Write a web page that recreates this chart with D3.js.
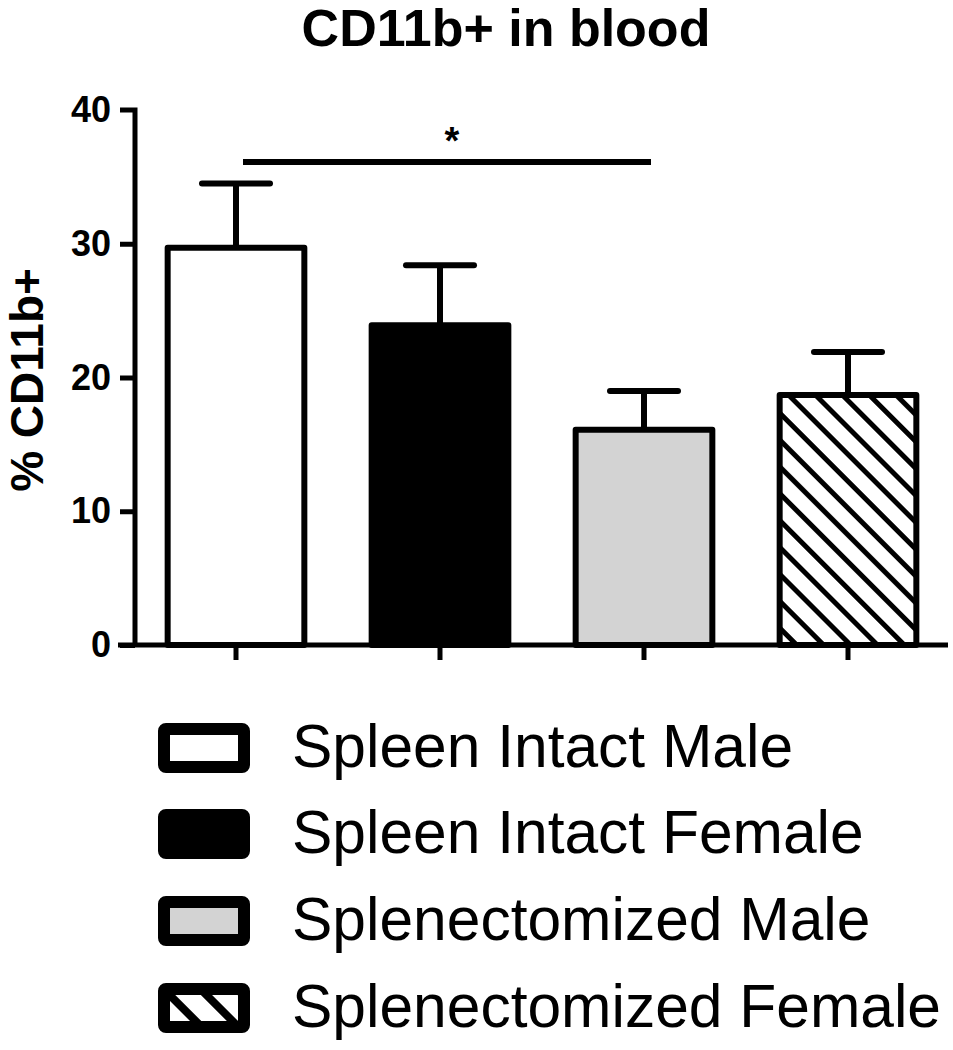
<!DOCTYPE html>
<html><head><meta charset="utf-8">
<script src="https://cdn.jsdelivr.net/npm/d3@7"></script>
<style>body{margin:0;background:#fff}text{font-family:"Liberation Sans",Arial,sans-serif}</style>
</head><body>
<script>
const categories = ["Spleen Intact Male","Spleen Intact Female","Splenectomized Male","Splenectomized Female"];
const means = [29.7, 23.9, 16.1, 18.7];
const errors = [4.8, 4.5, 2.9, 3.2];
const yTicks = [0, 10, 20, 30, 40];
const fills = ["#ffffff","#000000","#d3d3d3","url(#hatch)"];
const title = "CD11b+ in blood";
const yLabel = "% CD11b+";

const W = 953, H = 1050;
const svg = d3.select("body").append("svg").attr("width", W).attr("height", H);
const defs = svg.append("defs");
const hp = defs.append("pattern").attr("id","hatch").attr("patternUnits","userSpaceOnUse")
  .attr("width",19).attr("height",19).attr("patternTransform","translate(4,0) rotate(-45)");
hp.append("rect").attr("width",19).attr("height",19).attr("fill","#fff");
hp.append("line").attr("x1",9.5).attr("y1",0).attr("x2",9.5).attr("y2",19).attr("stroke","#000").attr("stroke-width",5);
const hp2 = defs.append("pattern").attr("id","hatchL").attr("patternUnits","userSpaceOnUse")
  .attr("width",26).attr("height",26).attr("patternTransform","translate(2,0) rotate(-45)");
hp2.append("rect").attr("width",26).attr("height",26).attr("fill","#fff");
hp2.append("line").attr("x1",13).attr("y1",0).attr("x2",13).attr("y2",26).attr("stroke","#000").attr("stroke-width",8);

const x = d3.scaleBand().domain(categories).range([134, 950]).paddingInner(0.33).paddingOuter(0.165);
const y = d3.scaleLinear().domain([0, 40]).range([645, 110]);

// title
svg.append("text").attr("x", 506).attr("y", 46).attr("text-anchor","middle")
  .attr("font-size", 52).attr("font-weight","bold").text(title);

// y label
svg.append("text").attr("transform","translate(43,380) rotate(-90)").attr("text-anchor","middle")
  .attr("font-size", 46).attr("font-weight","bold").text(yLabel);

// error bars (drawn before bars)
const g = svg.append("g");
categories.forEach((c,i)=>{
  const cx = x(c) + x.bandwidth()/2;
  g.append("line").attr("x1",cx).attr("x2",cx).attr("y1",y(means[i])).attr("y2",y(means[i]+errors[i]))
    .attr("stroke","#000").attr("stroke-width",6);
  g.append("line").attr("x1",cx-34).attr("x2",cx+34).attr("y1",y(means[i]+errors[i])).attr("y2",y(means[i]+errors[i]))
    .attr("stroke","#000").attr("stroke-width",6).attr("stroke-linecap","round");
});
g.selectAll("rect.bar").data(categories).join("rect").attr("class","bar")
  .attr("x", d=>x(d)).attr("width", x.bandwidth())
  .attr("y", (d,i)=>y(means[i])).attr("height",(d,i)=>y(0)-y(means[i]))
  .attr("fill",(d,i)=>fills[i]).attr("stroke","#000").attr("stroke-width",6).attr("stroke-linejoin","round");

// y axis
const ya = svg.append("g").attr("transform","translate(135,0)")
  .call(d3.axisLeft(y).tickValues(yTicks).tickSize(15).tickPadding(9));
ya.select(".domain").attr("stroke-width",5).attr("d","M-15,110H0V645");
ya.selectAll(".tick line").attr("stroke-width",5);
ya.selectAll(".tick text").attr("font-size",36).attr("font-weight","bold").attr("font-family","Liberation Sans, Arial, sans-serif").attr("fill","#000");
ya.selectAll(".tick").filter(d=>d===40).select("line").remove();

// x axis
const xa = svg.append("g").attr("transform","translate(0,645)")
  .call(d3.axisBottom(x).tickSize(15).tickFormat(""));
xa.select(".domain").attr("stroke-width",5).attr("d","M118,0H948");
xa.selectAll(".tick line").attr("stroke-width",5);

// significance
const c0 = x(categories[0]) + x.bandwidth()/2, c2 = x(categories[2]) + x.bandwidth()/2;
svg.append("line").attr("x1",c0+7).attr("x2",c2+7).attr("y1",162).attr("y2",162).attr("stroke","#000").attr("stroke-width",6);
svg.append("text").attr("x",452).attr("y",154).attr("text-anchor","middle").attr("font-size",38).attr("font-weight","bold").text("*");

// legend
const leg = svg.append("g");
const rowY = [748, 834, 921, 1008];
categories.forEach((c,i)=>{
  leg.append("rect").attr("x",164).attr("y",rowY[i]-19).attr("width",80).attr("height",38)
    .attr("fill", i===3 ? "url(#hatchL)" : fills[i]).attr("stroke","#000").attr("stroke-width",12).attr("rx",2);
  leg.append("text").attr("x",292).attr("y",rowY[i]+19).attr("font-size",60.5).text(c);
});
</script>
</body></html>
